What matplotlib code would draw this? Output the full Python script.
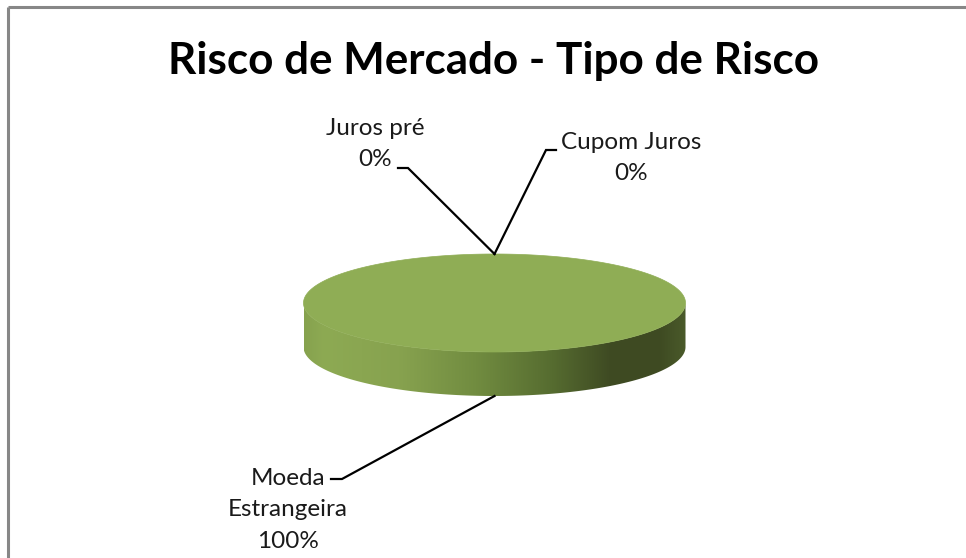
import numpy as np
import matplotlib.pyplot as plt
from matplotlib.patches import Polygon
from matplotlib.colors import LinearSegmentedColormap

title = 'Risco de Mercado - Tipo de Risco'
categories = ['Juros pré', 'Cupom Juros', 'Moeda\nEstrangeira']
values = [0, 0, 100]

W, H = 966, 558
fig = plt.figure(figsize=(W / 100, H / 100), dpi=100)
ax = fig.add_axes([0, 0, 1, 1])
ax.set_xlim(0, W)
ax.set_ylim(H, 0)
ax.axis('off')

FONT = ['Lato', 'DejaVu Sans']

# chart border (top and left visible)
ax.plot([8, W + 5], [7, 7], color='#878787', lw=2.2, solid_capstyle='butt')
ax.plot([8, 8], [7, H + 5], color='#878787', lw=2.2, solid_capstyle='butt')

ax.text(493, 61, title, ha='center', va='center', fontsize=31.7,
        fontweight='bold', family=FONT, color='black')

# pie geometry
cx, cy, rx, ry, depth = 494.5, 303, 191, 49, 44
top_color = '#8FAD55'
side_cmap = LinearSegmentedColormap.from_list('side', [
    (0.0, '#86A24E'), (0.05, '#8DAA53'), (0.25, '#87A24F'), (0.45, '#718C40'),
    (0.65, '#566C30'), (0.80, '#3F4B23'), (0.93, '#3E4A22'), (1.0, '#4A5A2A')])

vals = np.array(values, dtype=float)
fracs = vals / vals.sum()
cum = np.concatenate([[0], np.cumsum(fracs)])
starts = 90 - 360 * cum[:-1]
ends = 90 - 360 * cum[1:]


def ept(theta_deg, dy=0.0):
    t = np.radians(theta_deg)
    return cx + rx * np.cos(t), cy - ry * np.sin(t) + dy


# side faces (front half: angles 180..360)
for s, e, f in zip(starts, ends, fracs):
    if f <= 0:
        continue
    lo, hi = min(s, e), max(s, e)
    segs = []
    for off in (-360, 0, 360):
        a, b = max(lo + off, -180), min(hi + off, 0)
        if b > a:
            segs.append((a, b))
    for a, b in segs:
        th = np.linspace(a, b, 200)
        topx, topy = ept(th)
        botx, boty = ept(th[::-1], depth)
        poly = Polygon(np.column_stack([np.r_[topx, botx], np.r_[topy, boty]]),
                       closed=True, facecolor='none', edgecolor='none')
        ax.add_patch(poly)
        grad = np.linspace(0, 1, 512).reshape(1, -1)
        im = ax.imshow(grad, cmap=side_cmap, aspect='auto',
                       extent=[cx - rx, cx + rx, cy + ry + depth + 2, cy - 2],
                       interpolation='bilinear', zorder=2)
        im.set_clip_path(poly)

# top faces
for s, e, f in zip(starts, ends, fracs):
    if f <= 0:
        continue
    th = np.linspace(s, e, 400)
    x, y = ept(th)
    if f < 1:
        x = np.r_[cx, x]
        y = np.r_[cy, y]
    ax.add_patch(Polygon(np.column_stack([x, y]), closed=True,
                         facecolor=top_color, edgecolor=top_color, lw=0.5,
                         zorder=3))

# labels with leader lines
label_pos = [(375, 144), (631, 158), (288, 510)]
elbows = [((398, 168), (408, 168)), ((556, 150), (546, 150)),
          ((331, 479), (342, 479))]
for name, v, s, e, (tx, ty), (p0, p1) in zip(categories, values, starts, ends,
                                              label_pos, elbows):
    mid = (s + e) / 2
    if np.sin(np.radians(mid)) >= 0:
        ax_, ay_ = ept(mid)
    else:
        ax_, ay_ = ept(mid, depth)
    ax.plot([p0[0], p1[0], ax_], [p0[1], p1[1], ay_], color='black', lw=1.6,
            zorder=4, solid_joinstyle='miter')
    ax.text(tx, ty, f'{name}\n{v:.0f}%', ha='center', va='center',
            fontsize=17.5, family=FONT, color='#1a1a1a', linespacing=1.6,
            zorder=5)

fig.savefig('out.png', dpi=100, facecolor='white')
